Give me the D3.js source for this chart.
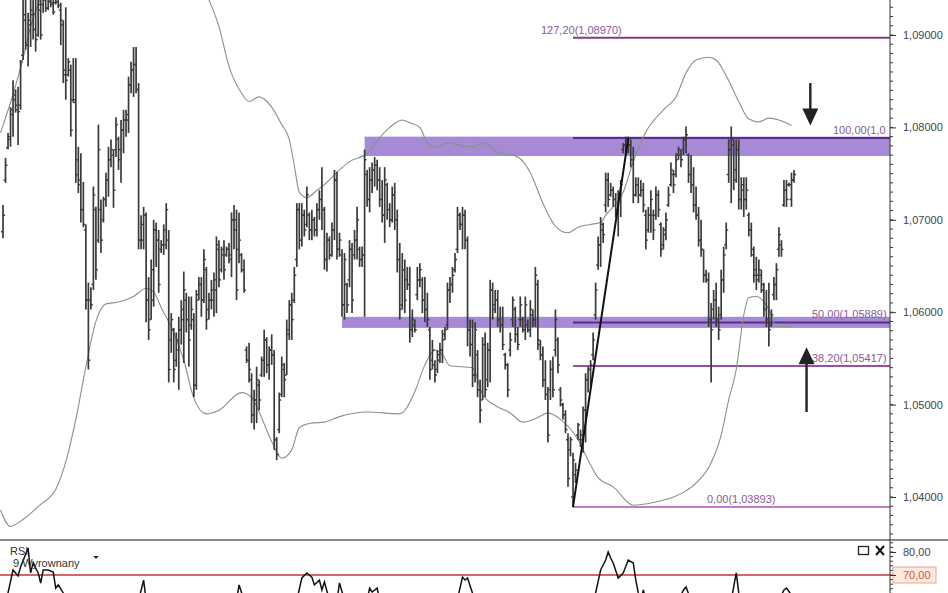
<!DOCTYPE html>
<html><head><meta charset="utf-8">
<script src="https://cdn.jsdelivr.net/npm/d3@7"></script>
<style>body{margin:0;background:#fff;}svg{display:block;font-family:"Liberation Sans",Arial,sans-serif;}</style>
</head><body><svg id="c" width="948" height="593"></svg>
<script>
// ---------------- DATA ----------------
const high=[1.0716,1.0767,1.0794,1.0822,1.0851,1.0841,1.0844,1.0873,1.0943,1.0938,
1.0924,1.0940,1.0946,1.0938,1.0946,1.0938,1.0949,1.0946,1.0943,1.0947,
1.0941,1.0944,1.0942,1.0935,1.0916,1.0930,1.0875,1.0868,1.0875,1.0875,
1.0779,1.0772,1.0741,1.0695,1.0632,1.0627,1.0736,1.0714,1.0803,1.0722,
1.0725,1.0751,1.0779,1.0787,1.0776,1.0811,1.0790,1.0808,1.0819,1.0819,
1.0855,1.0871,1.0887,1.0887,1.0848,1.0705,1.0714,1.0708,1.0638,1.0657,
1.0700,1.0697,1.0689,1.0678,1.0695,1.0718,1.0689,1.0599,1.0583,1.0578,
1.0595,1.0613,1.0644,1.0621,1.0617,1.0617,1.0599,1.0624,1.0638,1.0638,
1.0668,1.0649,1.0621,1.0635,1.0643,1.0682,1.0678,1.0671,1.0678,1.0671,
1.0675,1.0708,1.0716,1.0711,1.0708,1.0664,1.0657,1.0563,1.0567,1.0534,
1.0516,1.0541,1.0527,1.0552,1.0581,1.0573,1.0563,1.0576,1.0559,1.0465,
1.0513,1.0552,1.0545,1.0592,
1.0613,1.0621,1.0649,1.0718,1.0718,1.0718,1.0711,1.0736,1.0708,1.0711,
1.0703,1.0718,1.0732,1.0757,1.0714,1.0686,1.0682,1.0697,1.0754,1.0752,
1.0686,1.0668,1.0664,1.0632,1.0678,1.0675,1.0689,1.0714,1.0671,1.0671,
1.0776,1.0754,1.0757,1.0762,1.0768,1.0765,1.0757,1.0743,1.0757,1.0740,
1.0718,1.0736,1.0740,1.0711,1.0675,1.0664,1.0657,1.0649,1.0649,1.0603,
1.0592,1.0649,1.0653,1.0638,1.0638,1.0621,1.0584,1.0570,1.0548,1.0559,
1.0567,1.0581,1.0584,1.0632,1.0638,1.0649,1.0664,1.0714,1.0708,1.0714,
1.0711,1.0682,1.0592,1.0592,1.0589,1.0559,1.0527,1.0573,1.0578,1.0567,
1.0635,1.0632,1.0624,1.0624,1.0606,1.0606,1.0556,1.0545,1.0578,1.0617,
1.0606,1.0584,1.0617,1.0595,1.0617,1.0592,1.0613,1.0603,1.0649,1.0635,
1.0570,1.0563,1.0548,1.0519,1.0548,1.0552,1.0603,1.0573,1.0519,1.0502,
1.0494,1.0469,1.0465,1.0448,1.0437,1.0480,1.0473,1.0498,1.0534,1.0541,
1.0548,1.0578,1.0632,1.0682,1.0703,1.0697,1.0751,1.0751,1.0740,1.0736,
1.0729,1.0732,1.0743,1.0783,1.0790,1.0790,1.0787,1.0779,1.0746,1.0746,
1.0743,1.0740,1.0711,1.0714,1.0732,1.0711,1.0736,1.0732,1.0697,1.0692,
1.0708,1.0736,1.0762,1.0754,1.0772,1.0779,1.0776,1.0790,1.0801,1.0772,
1.0770,1.0757,1.0736,1.0714,1.0700,1.0668,1.0646,1.0643,1.0610,1.0624,
1.0632,1.0606,1.0646,1.0671,1.0697,1.0787,1.0801,1.0787,1.0787,1.0787,
1.0746,1.0746,1.0746,1.0708,1.0697,1.0671,1.0660,1.0657,1.0646,1.0632,
1.0624,1.0632,1.0603,1.0638,1.0653,1.0692,1.0678,1.0743,1.0743,1.0740,
1.0751,1.0754];
const low=[1.0680,1.0740,1.0776,1.0779,1.0790,1.0816,1.0781,1.0819,1.0873,1.0884,
1.0866,1.0887,1.0895,1.0882,1.0898,1.0895,1.0924,1.0925,1.0927,1.0930,
1.0922,1.0933,1.0929,1.0889,1.0848,1.0830,1.0855,1.0790,1.0827,1.0740,
1.0729,1.0697,1.0692,1.0603,1.0538,1.0603,1.0624,1.0635,1.0675,1.0664,
1.0697,1.0714,1.0725,1.0757,1.0713,1.0768,1.0754,1.0740,1.0772,1.0790,
1.0794,1.0837,1.0833,1.0837,1.0668,1.0668,1.0668,1.0589,1.0570,1.0592,
1.0606,1.0649,1.0621,1.0664,1.0662,1.0668,1.0524,1.0556,1.0524,1.0541,
1.0516,1.0565,1.0545,1.0578,1.0541,1.0581,1.0508,1.0516,1.0613,1.0595,
1.0610,1.0581,1.0592,1.0603,1.0595,1.0599,1.0627,1.0643,1.0635,1.0660,
1.0653,1.0638,1.0668,1.0613,1.0653,1.0643,1.0621,1.0545,1.0524,1.0480,
1.0473,1.0480,1.0494,1.0530,1.0530,1.0534,1.0527,1.0543,1.0451,1.0440,
1.0469,1.0508,1.0508,1.0532,
1.0570,1.0570,1.0610,1.0649,1.0668,1.0671,1.0682,1.0692,1.0678,1.0678,
1.0682,1.0682,1.0700,1.0689,1.0646,1.0644,1.0657,1.0660,1.0678,1.0657,
1.0660,1.0595,1.0592,1.0599,1.0627,1.0599,1.0657,1.0657,1.0649,1.0649,
1.0595,1.0714,1.0708,1.0729,1.0736,1.0732,1.0714,1.0697,1.0675,1.0700,
1.0692,1.0697,1.0689,1.0643,1.0592,1.0603,1.0599,1.0624,1.0567,1.0573,
1.0578,1.0613,1.0627,1.0599,1.0589,1.0584,1.0527,1.0538,1.0524,1.0534,
1.0545,1.0545,1.0570,1.0581,1.0610,1.0621,1.0643,1.0664,1.0689,1.0668,
1.0668,1.0563,1.0552,1.0519,1.0524,1.0508,1.0480,1.0505,1.0508,1.0519,
1.0524,1.0592,1.0599,1.0584,1.0578,1.0559,1.0538,1.0508,1.0552,1.0584,
1.0567,1.0559,1.0584,1.0578,1.0570,1.0578,1.0573,1.0584,1.0584,1.0559,
1.0548,1.0519,1.0505,1.0459,1.0505,1.0508,1.0552,1.0534,1.0498,1.0484,
1.0469,1.0411,1.0444,1.0389,1.0415,1.0462,1.0454,1.0448,1.0459,1.0513,
1.0519,1.0548,1.0592,1.0646,1.0649,1.0675,1.0708,1.0714,1.0725,1.0714,
1.0703,1.0682,1.0703,1.0772,1.0770,1.0772,1.0757,1.0718,1.0725,1.0718,
1.0725,1.0708,1.0668,1.0686,1.0686,1.0678,1.0700,1.0703,1.0660,1.0668,
1.0678,1.0714,1.0736,1.0729,1.0746,1.0765,1.0757,1.0770,1.0772,1.0740,
1.0729,1.0708,1.0700,1.0671,1.0660,1.0632,1.0632,1.0584,1.0524,1.0592,
1.0584,1.0570,1.0592,1.0621,1.0668,1.0740,1.0718,1.0732,1.0740,1.0711,
1.0711,1.0703,1.0711,1.0682,1.0660,1.0632,1.0624,1.0632,1.0621,1.0595,
1.0584,1.0563,1.0584,1.0613,1.0613,1.0660,1.0660,1.0714,1.0714,1.0736,
1.0714,1.0740];
const open=[1.0687,1.0743,1.0778,1.0787,1.0814,1.0830,1.0819,1.0824,1.0878,1.0916,
1.0889,1.0911,1.0922,1.0906,1.0900,1.0927,1.0933,1.0938,1.0929,1.0938,
1.0933,1.0935,1.0936,1.0927,1.0911,1.0857,1.0857,1.0862,1.0830,1.0830,
1.0765,1.0743,1.0711,1.0689,1.0613,1.0613,1.0630,1.0711,1.0678,1.0711,
1.0700,1.0722,1.0743,1.0765,1.0770,1.0776,1.0787,1.0776,1.0797,1.0808,
1.0808,1.0846,1.0862,1.0868,1.0841,1.0678,1.0678,1.0705,1.0613,1.0592,
1.0613,1.0689,1.0678,1.0668,1.0673,1.0673,1.0678,1.0570,1.0581,1.0548,
1.0559,1.0581,1.0592,1.0613,1.0592,1.0586,1.0592,1.0521,1.0619,1.0630,
1.0613,1.0646,1.0603,1.0613,1.0613,1.0624,1.0668,1.0646,1.0668,1.0662,
1.0668,1.0657,1.0700,1.0700,1.0668,1.0662,1.0646,1.0559,1.0548,1.0527,
1.0489,1.0505,1.0521,1.0532,1.0548,1.0570,1.0543,1.0559,1.0554,1.0462,
1.0473,1.0511,1.0538,1.0532,
1.0576,1.0608,1.0613,1.0657,1.0711,1.0678,1.0705,1.0695,1.0705,1.0689,
1.0700,1.0689,1.0711,1.0722,1.0711,1.0657,1.0678,1.0662,1.0689,1.0743,
1.0668,1.0662,1.0608,1.0630,1.0635,1.0668,1.0662,1.0678,1.0668,1.0657,
1.0662,1.0749,1.0722,1.0743,1.0754,1.0759,1.0743,1.0722,1.0705,1.0738,
1.0711,1.0700,1.0727,1.0700,1.0657,1.0608,1.0646,1.0635,1.0630,1.0581,
1.0586,1.0619,1.0635,1.0635,1.0613,1.0603,1.0581,1.0548,1.0543,1.0538,
1.0554,1.0559,1.0576,1.0586,1.0624,1.0630,1.0646,1.0668,1.0705,1.0695,
1.0705,1.0678,1.0581,1.0565,1.0532,1.0554,1.0516,1.0505,1.0565,1.0527,
1.0559,1.0624,1.0608,1.0613,1.0592,1.0586,1.0554,1.0543,1.0559,1.0592,
1.0603,1.0576,1.0592,1.0592,1.0581,1.0586,1.0581,1.0597,1.0592,1.0630,
1.0565,1.0554,1.0527,1.0511,1.0516,1.0538,1.0559,1.0570,1.0516,1.0500,
1.0489,1.0462,1.0451,1.0400,1.0424,1.0467,1.0462,1.0462,1.0494,1.0527,
1.0538,1.0554,1.0597,1.0651,1.0673,1.0689,1.0716,1.0743,1.0727,1.0732,
1.0722,1.0711,1.0727,1.0776,1.0781,1.0787,1.0781,1.0765,1.0727,1.0738,
1.0727,1.0732,1.0705,1.0689,1.0705,1.0705,1.0705,1.0727,1.0695,1.0673,
1.0689,1.0716,1.0738,1.0749,1.0749,1.0770,1.0770,1.0776,1.0787,1.0770,
1.0749,1.0738,1.0716,1.0705,1.0678,1.0668,1.0640,1.0635,1.0592,1.0603,
1.0613,1.0592,1.0597,1.0635,1.0673,1.0749,1.0776,1.0781,1.0754,1.0776,
1.0722,1.0732,1.0722,1.0705,1.0689,1.0662,1.0646,1.0640,1.0640,1.0624,
1.0603,1.0592,1.0586,1.0619,1.0630,1.0668,1.0673,1.0716,1.0732,1.0738,
1.0722,1.0743];
const close=[1.0705,1.0759,1.0790,1.0819,1.0835,1.0824,1.0817,1.0871,1.0922,1.0889,
1.0916,1.0927,1.0906,1.0895,1.0933,1.0900,1.0938,1.0929,1.0936,1.0935,
1.0925,1.0936,1.0932,1.0916,1.0862,1.0851,1.0871,1.0797,1.0827,1.0749,
1.0738,1.0711,1.0695,1.0613,1.0548,1.0608,1.0727,1.0646,1.0776,1.0678,
1.0722,1.0743,1.0765,1.0776,1.0732,1.0803,1.0765,1.0797,1.0808,1.0814,
1.0846,1.0862,1.0868,1.0841,1.0678,1.0695,1.0705,1.0613,1.0581,1.0646,
1.0689,1.0678,1.0630,1.0673,1.0689,1.0711,1.0538,1.0592,1.0538,1.0570,
1.0581,1.0603,1.0624,1.0592,1.0570,1.0603,1.0521,1.0613,1.0630,1.0613,
1.0657,1.0592,1.0613,1.0624,1.0635,1.0673,1.0635,1.0662,1.0646,1.0668,
1.0662,1.0700,1.0689,1.0624,1.0678,1.0646,1.0624,1.0548,1.0538,1.0489,
1.0505,1.0527,1.0505,1.0548,1.0570,1.0543,1.0559,1.0554,1.0462,1.0446,
1.0505,1.0543,1.0527,1.0581,
1.0608,1.0592,1.0640,1.0711,1.0678,1.0705,1.0689,1.0727,1.0689,1.0700,
1.0689,1.0711,1.0722,1.0711,1.0657,1.0678,1.0662,1.0689,1.0743,1.0668,
1.0678,1.0608,1.0657,1.0608,1.0668,1.0613,1.0678,1.0700,1.0657,1.0662,
1.0765,1.0722,1.0743,1.0754,1.0759,1.0743,1.0722,1.0705,1.0743,1.0711,
1.0700,1.0727,1.0700,1.0657,1.0603,1.0646,1.0613,1.0630,1.0581,1.0592,
1.0581,1.0635,1.0646,1.0613,1.0603,1.0592,1.0538,1.0559,1.0532,1.0548,
1.0559,1.0570,1.0581,1.0624,1.0630,1.0640,1.0657,1.0705,1.0695,1.0705,
1.0678,1.0581,1.0565,1.0532,1.0581,1.0516,1.0494,1.0565,1.0516,1.0559,
1.0624,1.0603,1.0613,1.0592,1.0586,1.0565,1.0543,1.0516,1.0570,1.0613,
1.0576,1.0565,1.0608,1.0581,1.0608,1.0581,1.0603,1.0592,1.0640,1.0570,
1.0554,1.0527,1.0511,1.0467,1.0538,1.0516,1.0592,1.0543,1.0505,1.0489,
1.0473,1.0420,1.0462,1.0440,1.0429,1.0478,1.0467,1.0494,1.0527,1.0538,
1.0543,1.0570,1.0624,1.0673,1.0695,1.0684,1.0743,1.0722,1.0732,1.0722,
1.0711,1.0727,1.0738,1.0781,1.0787,1.0781,1.0765,1.0727,1.0738,1.0727,
1.0732,1.0716,1.0678,1.0705,1.0722,1.0689,1.0727,1.0711,1.0668,1.0684,
1.0700,1.0727,1.0754,1.0738,1.0765,1.0776,1.0765,1.0787,1.0792,1.0749,
1.0738,1.0716,1.0705,1.0678,1.0668,1.0640,1.0635,1.0592,1.0581,1.0613,
1.0592,1.0581,1.0635,1.0662,1.0689,1.0776,1.0787,1.0743,1.0776,1.0722,
1.0738,1.0722,1.0732,1.0689,1.0668,1.0640,1.0635,1.0646,1.0630,1.0603,
1.0592,1.0581,1.0597,1.0630,1.0646,1.0684,1.0668,1.0732,1.0722,1.0738,
1.0743,1.0749];

// Bollinger bands (bar index, value)
const upperBandBar=[-1,5,8,11,15,21,41,63,78,82,86,90,95,98,102,107,111,114,116,118,121,125,128,134,138,145,150,154,159,162,166,169,172,177,183,186,192,196,205,210,215,220,225,229,234,238,240,247,251,256,263,268,272,276,281,284,288,293,297,301,305,309,314];
const upperBand=[1.0794,1.0845,1.0875,1.0909,1.0940,1.0970,1.1003,1.1003,1.0960,1.0938,1.0909,1.0866,1.0837,1.0828,1.0833,1.0822,1.0803,1.0787,1.0759,1.0730,1.0724,1.0732,1.0738,1.0754,1.0763,1.0772,1.0789,1.0800,1.0808,1.0805,1.0800,1.0783,1.0778,1.0783,1.0780,1.0779,1.0783,1.0774,1.0768,1.0751,1.0718,1.0693,1.0686,1.0692,1.0695,1.0697,1.0705,1.0730,1.0763,1.0795,1.0819,1.0833,1.0859,1.0873,1.0876,1.0873,1.0856,1.0828,1.0809,1.0806,1.0810,1.0808,1.0802];
const lowerBandBar=[-1,3,6,15,21,24,29,33,37,41,46,52,57,60,63,68,72,76,81,86,95,99,102,107,111,115,118,123,128,134,145,158,164,168,172,175,178,187,191,196,202,207,213,217,222,229,233,237,243,251,259,267,271,276,282,286,289,292,295,297,300,305,308,314];
const lowerBand=[1.0386,1.0368,1.0372,1.0392,1.0408,1.0429,1.0484,1.0541,1.0590,1.0609,1.0611,1.0617,1.0626,1.0622,1.0605,1.0578,1.0548,1.0507,1.0490,1.0494,1.0513,1.0508,1.0492,1.0460,1.0442,1.0451,1.0475,1.0480,1.0481,1.0487,1.0492,1.0490,1.0514,1.0543,1.0559,1.0554,1.0542,1.0540,1.0511,1.0499,1.0491,1.0481,1.0486,1.0491,1.0484,1.0462,1.0440,1.0421,1.0411,1.0391,1.0394,1.0400,1.0405,1.0415,1.0437,1.0467,1.0505,1.0538,1.0597,1.0616,1.0617,1.0603,1.0585,1.0584];

// Fibonacci retracement
const fibStartBar=227, fibEndBar=249;
const fibLow=1.03893, fibHigh=1.07885;
const fibLevels=[0,38.2,50,100,127.2];
const fibColors=["#c47ac6","#9a4ea3","#5b2d86","#5b2d86","#7c3d83"];

// Support / resistance zones
const zoneStart=[144,135];
const zoneTop=[1.0790,1.0595];
const zoneBottom=[1.0769,1.0583];

// arrows [bar, from value, to value]
const arrowBar=[321.5,320];
const arrowFrom=[1.0848,1.0492];
const arrowTo=[1.0802,1.0562];

// RSI (bar index, value)
const rsiBar=[-1,2,4,6,7,10,11,12,14,15,16,18,20,21,22,24,25,35,45,54,56,57,70,85,93,94,96,105,117,119,121,123,124,126,127,128,130,133,134,136,140,145,146,147,149,150,165,180,183,184,185,187,189,200,215,230,235,236,238,240,241,242,243,245,247,249,251,252,253,254,255,256,262,269,271,272,274,282,290,292,293,294,300,309,311,312,314,315];
const rsiVal=[58,62.2,72.2,69.6,73.5,81.7,70.9,75.2,70.9,66.5,72.2,72.2,71.3,64.3,65.7,62.2,57,45,50,59,67.8,59,42,52,59,65.7,59,48,59,68.7,70.9,69.1,65.7,67.8,63.5,67,59,59,66.5,59,52,59,64.3,62.6,64.3,59,45,55,69.1,67.8,68.7,62,55,44,50,38,52,62.2,72.2,76.5,80,77.4,75.2,68.7,70.9,76.5,75.2,67.8,62.2,59,63.5,59,50,59,63.5,64.8,59,48,59,70.9,62.2,59,52,59,63.5,64.3,61.3,59];

const priceTicks=[1.04,1.05,1.06,1.07,1.08,1.09];
const rsiTicks=[60,70,80];
const rsiLevel=70;

// ---------------- LAYOUT ----------------
const W=948,H=593,axisX=890,mainBottom=538,sepY=540,rsiTop=542;
const N=high.length;
const svg=d3.select('#c');
const x=d3.scaleLinear().domain([0,315]).range([3,794]);
const y=d3.scaleLinear().domain([1.04,1.09]).range([497,35]);
const yr=d3.scaleLinear().domain([70,80]).range([575,552]);
const comma=s=>s.replace('.',',');

const defs=svg.append('defs');
defs.append('clipPath').attr('id','mc').append('rect').attr('x',0).attr('y',0).attr('width',axisX).attr('height',mainBottom);
defs.append('clipPath').attr('id','rc').append('rect').attr('x',0).attr('y',rsiTop).attr('width',axisX).attr('height',H-rsiTop);

const g=svg.append('g').attr('clip-path','url(#mc)');

// zones
g.selectAll('rect.zone').data(zoneStart).join('rect')
  .attr('x',d=>x(d)).attr('width',d=>axisX-x(d))
  .attr('y',(d,i)=>y(zoneTop[i])).attr('height',(d,i)=>y(zoneBottom[i])-y(zoneTop[i]))
  .attr('fill','#a68ad6');

// fib lines
const fibPrice=lv=>fibLow+(fibHigh-fibLow)*lv/100;
g.selectAll('line.fib').data(fibLevels).join('line')
  .attr('x1',x(fibStartBar)).attr('x2',axisX)
  .attr('y1',d=>y(fibPrice(d))).attr('y2',d=>y(fibPrice(d)))
  .attr('stroke',(d,i)=>fibColors[i]).attr('stroke-width',2);

// bands
const bandLine=d3.line().x(d=>x(d[0])).y(d=>y(d[1])).curve(d3.curveMonotoneX);
[[upperBandBar,upperBand],[lowerBandBar,lowerBand]].forEach(([b,v])=>{
  g.append('path').datum(d3.zip(b,v)).attr('d',bandLine)
   .attr('fill','none').attr('stroke','#82977f').attr('stroke-width',1.1);
});

// OHLC bars
const bg=g.append('g').attr('stroke','#3a3a3a').attr('stroke-width',1.7);
const idx=d3.range(N);
bg.selectAll('line.hl').data(idx).join('line')
  .attr('x1',i=>x(i)).attr('x2',i=>x(i)).attr('y1',i=>y(high[i])).attr('y2',i=>y(low[i]));
bg.selectAll('line.op').data(idx).join('line').attr('stroke-width',1.4)
  .attr('x1',i=>x(i)-2).attr('x2',i=>x(i)).attr('y1',i=>y(open[i])).attr('y2',i=>y(open[i]));
bg.selectAll('line.cl').data(idx).join('line').attr('stroke-width',1.4)
  .attr('x1',i=>x(i)).attr('x2',i=>x(i)+2).attr('y1',i=>y(close[i])).attr('y2',i=>y(close[i]));

// trend line
g.append('line').attr('x1',x(fibStartBar)).attr('y1',y(fibLow)).attr('x2',x(fibEndBar)).attr('y2',y(fibHigh))
  .attr('stroke','#111').attr('stroke-width',2);

// fib labels (shortened to fit before the axis, as in the reference)
const labelX={0:707,38.2:812,50:812,100:833,127.2:541};
const trunc=p=>(Math.floor(p*1e5+1e-6)/1e5).toFixed(5);
g.selectAll('text.fl').data(fibLevels).join('text')
  .attr('x',d=>labelX[d]).attr('y',d=>y(fibPrice(d))-4)
  .attr('font-size',11).attr('fill','#8a5a98')
  .text(d=>comma(d.toFixed(2))+'('+comma(trunc(fibPrice(d)))+')')
  .each(function(d){
    let t=this.textContent;
    while(t.length>1 && labelX[d]+this.getComputedTextLength()>axisX-1){t=t.slice(0,-1);this.textContent=t;}
  });

// arrows
arrowBar.forEach((b,i)=>{
  const ax=x(b), y0=y(arrowFrom[i]), y1=y(arrowTo[i]);
  const dir=Math.sign(y1-y0), hl=17, hw=8;
  g.append('line').attr('x1',ax).attr('x2',ax).attr('y1',y0).attr('y2',y1-dir*hl+dir*2)
    .attr('stroke','#222').attr('stroke-width',2.4);
  g.append('path').attr('d',`M${ax-hw},${y1-dir*hl}L${ax+hw},${y1-dir*hl}L${ax},${y1}Z`).attr('fill','#222');
});

// separator and axis line
svg.append('line').attr('x1',0).attr('x2',W).attr('y1',sepY).attr('y2',sepY).attr('stroke','#8a8a8a').attr('stroke-width',2);
svg.append('line').attr('x1',axisX).attr('x2',axisX).attr('y1',0).attr('y2',H).attr('stroke','#333').attr('stroke-width',1);

// price axis
const minor=d3.range(1035,1095).map(v=>v/1000);
const ag=svg.append('g').attr('transform',`translate(${axisX},0)`);
ag.selectAll('line.mn').data(minor.filter(v=>y(v)>0&&y(v)<mainBottom)).join('line')
  .attr('x1',0).attr('x2',3).attr('y1',d=>y(d)).attr('y2',d=>y(d)).attr('stroke','#333');
const pa=ag.append('g').call(d3.axisRight(y).tickValues(priceTicks).tickSize(6).tickPadding(7)
  .tickFormat(d=>comma(d3.format('.5f')(d))));
pa.select('.domain').remove();
pa.selectAll('text').attr('font-size',11).attr('fill','#444').attr('font-family','"Liberation Sans",Arial,sans-serif');
pa.selectAll('line').attr('stroke','#333');

// ---------------- RSI panel ----------------
const rg=svg.append('g').attr('clip-path','url(#rc)');
rg.append('line').attr('x1',0).attr('x2',axisX).attr('y1',yr(rsiLevel)).attr('y2',yr(rsiLevel))
  .attr('stroke','#cc3333').attr('stroke-width',1.6);
rg.append('path').datum(d3.zip(rsiBar,rsiVal))
  .attr('d',d3.line().x(d=>x(d[0])).y(d=>yr(d[1])))
  .attr('fill','none').attr('stroke','#111').attr('stroke-width',1.5);

svg.append('text').attr('x',10).attr('y',555).attr('font-size',11).attr('fill','#333').text('RSI');
svg.append('text').attr('x',13).attr('y',567).attr('font-size',11).attr('fill','#333').text('9 Wyrownany');
svg.append('path').attr('d','M93,556L99,556L96,559Z').attr('fill','#333');
// window buttons
svg.append('rect').attr('x',858.5).attr('y',546.5).attr('width',10).attr('height',8).attr('fill','none').attr('stroke','#222').attr('stroke-width',1.3);
svg.append('path').attr('d','M876,546L884,555M884,546L876,555').attr('stroke','#111').attr('stroke-width',2);

// RSI axis
const ra=svg.append('g').attr('transform',`translate(${axisX},0)`);
ra.selectAll('line.m').data(d3.range(62,86,2).filter(v=>yr(v)>rsiTop)).join('line')
  .attr('x1',0).attr('x2',3).attr('y1',d=>yr(d)).attr('y2',d=>yr(d)).attr('stroke','#333');
ra.append('rect').attr('x',3).attr('y',yr(rsiLevel)-8).attr('width',43).attr('height',16)
  .attr('fill','#fde9dd').attr('stroke','#e4a898').attr('stroke-width',1);
const rax=ra.append('g').call(d3.axisRight(yr).tickValues(rsiTicks).tickSize(6).tickPadding(7)
  .tickFormat(d=>comma(d3.format('.2f')(d))));
rax.select('.domain').remove();
rax.selectAll('text').attr('font-size',11).attr('font-family','"Liberation Sans",Arial,sans-serif')
  .attr('fill',d=>d===rsiLevel?'#d0573c':'#444');
rax.selectAll('line').attr('stroke','#333');
</script>
</body></html>
